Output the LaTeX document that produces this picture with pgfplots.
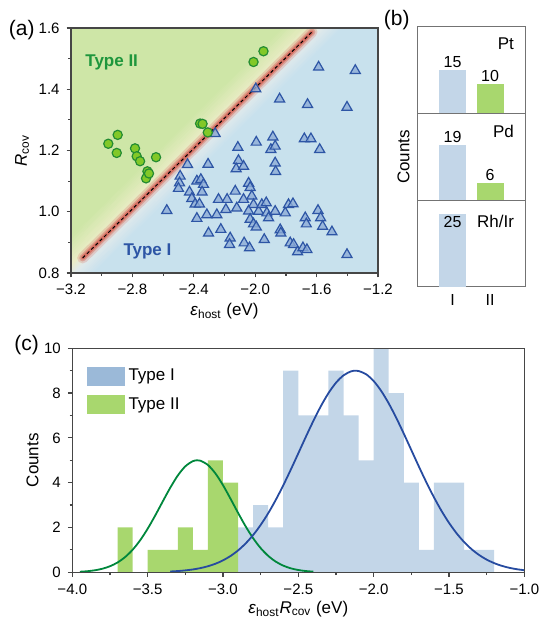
\documentclass[border=0pt]{standalone}
\usepackage{fontspec}
\setmainfont{Liberation Sans}
\usepackage{pgfplots}
\pgfplotsset{compat=1.18}

\definecolor{axgray}{RGB}{70,70,70}
\definecolor{tfill}{RGB}{140,172,215}
\definecolor{tedge}{RGB}{45,85,165}
\definecolor{cfill}{RGB}{130,200,40}
\definecolor{cedge}{RGB}{35,140,50}
\definecolor{glowred}{RGB}{210,80,70}
\definecolor{typeone}{RGB}{45,85,165}
\definecolor{typetwo}{RGB}{30,150,60}
\definecolor{barblue}{RGB}{195,214,232}
\definecolor{bargreen}{RGB}{168,215,110}
\definecolor{legblue}{RGB}{155,185,216}
\definecolor{fitblue}{RGB}{38,75,160}
\definecolor{fitgreen}{RGB}{0,135,60}

\pgfplotsset{
  panel/.style={
    scale only axis, anchor=south west, clip mode=individual,
    axis line style={axgray, line width=0.6pt},
    tick style={axgray, line width=0.6pt},
    tick align=outside, tick pos=left,
    major tick length=2.2pt, minor tick length=1.4pt,
    tick label style={font=\fontsize{7.5}{8}\selectfont},
    label style={font=\fontsize{8.5}{9}\selectfont},
  },
  elem/.style={
    panel, width=54pt, height=43.35pt,
    xmin=0.053, xmax=2.933, ymin=0, ymax=29.7,
    xtick=\empty, ytick=\empty,
    axis line style={black!55, line width=0.5pt},
    ybar, bar width=13.5pt,
    /pgf/number format/assume math mode=true,
    nodes near coords,
    every node near coord/.append style={font=\fontsize{8}{9}\selectfont, black, inner sep=1pt},
  },
}

\begin{document}
\begin{tikzpicture}
\useasboundingbox (0,0) rectangle (269pt,309.5pt);

% ---------------- (a) ----------------
\begin{axis}[panel, at={(35.5pt,173pt)}, width=153.5pt, height=122.5pt,
  xmin=-3.2, xmax=-1.2, ymin=0.8, ymax=1.6,
  xtick={-3.2,-2.8,-2.4,-2.0,-1.6,-1.2},
  xticklabels={−3.2,−2.8,−2.4,−2.0,−1.6,−1.2},
  minor xtick={-3.0,-2.6,-2.2,-1.8,-1.4},
  ytick={0.8,1.0,1.2,1.4,1.6},
  yticklabels={0.8,1.0,1.2,1.4,1.6},
  minor ytick={0.9,1.1,1.3,1.5},
  axis on top,
  xlabel={\textit{ε}\textsubscript{host} (eV)},
  xlabel style={yshift=3pt},
  ylabel={\textit{R}\textsubscript{cov}},
  ylabel style={yshift=-2pt},
]
\addplot[patch, shader=interp, mesh/color input=explicit] table[meta=c] {
x y c
-3.4 -0.4873 rgb=0.784,0.882,0.929
-1.0 0.6983 rgb=0.784,0.882,0.929
-1.0 1.8133 rgb=0.784,0.882,0.929
-3.4 -0.4873 rgb=0.784,0.882,0.929
-1.0 1.8133 rgb=0.784,0.882,0.929
-3.4 0.6277 rgb=0.784,0.882,0.929
-3.4 0.6277 rgb=0.784,0.882,0.929
-1.0 1.8133 rgb=0.784,0.882,0.929
-1.0 1.8783 rgb=0.878,0.914,0.922
-3.4 0.6277 rgb=0.784,0.882,0.929
-1.0 1.8783 rgb=0.878,0.914,0.922
-3.4 0.6927 rgb=0.878,0.914,0.922
-3.4 0.6927 rgb=0.878,0.914,0.922
-1.0 1.8783 rgb=0.878,0.914,0.922
-1.0 1.9163 rgb=0.918,0.925,0.776
-3.4 0.6927 rgb=0.878,0.914,0.922
-1.0 1.9163 rgb=0.918,0.925,0.776
-3.4 0.7307 rgb=0.918,0.925,0.776
-3.4 0.7307 rgb=0.918,0.925,0.776
-1.0 1.9163 rgb=0.918,0.925,0.776
-1.0 2.0083 rgb=0.808,0.902,0.655
-3.4 0.7307 rgb=0.918,0.925,0.776
-1.0 2.0083 rgb=0.808,0.902,0.655
-3.4 0.8227 rgb=0.808,0.902,0.655
-3.4 0.8227 rgb=0.808,0.902,0.655
-1.0 2.0083 rgb=0.808,0.902,0.655
-1.0 3.0983 rgb=0.808,0.902,0.655
-3.4 0.8227 rgb=0.808,0.902,0.655
-1.0 3.0983 rgb=0.808,0.902,0.655
-3.4 1.9127 rgb=0.808,0.902,0.655
};
% red glow along the boundary
\addplot[glowred, line width=5.5pt, opacity=0.2, line cap=round] coordinates {(-3.124,0.849) (-1.630,1.587)};
\addplot[glowred, line width=3.4pt, opacity=0.35, line cap=round] coordinates {(-3.124,0.849) (-1.630,1.587)};
\addplot[glowred, line width=1.9pt, opacity=0.6, line cap=round] coordinates {(-3.124,0.849) (-1.630,1.587)};
\addplot[black, line width=0.5pt, dash pattern=on 1.7pt off 1.3pt] coordinates {(-3.124,0.849) (-1.630,1.587)};

% Type I
\addplot[only marks, mark=triangle*, mark size=2.9pt,
  mark options={fill=tfill, draw=tedge, line width=0.6pt, fill opacity=0.8}] table {
-1.587 1.472
-1.348 1.461
-1.996 1.401
-1.841 1.368
-1.659 1.350
-1.402 1.341
-2.261 1.255
-1.993 1.227
-1.885 1.244
-1.680 1.238
-1.637 1.238
-1.580 1.203
-1.898 1.203
-1.870 1.214
-2.113 1.210
-2.441 1.154
-2.307 1.155
-2.109 1.167
-2.124 1.140
-2.076 1.148
-1.870 1.159
-1.867 1.131
-2.489 1.116
-2.493 1.094
-2.500 1.076
-2.380 1.100
-2.354 1.105
-2.337 1.089
-2.346 1.064
-2.428 1.064
-2.413 1.043
-2.391 1.025
-2.363 1.025
-2.576 1.004
-2.380 0.978
-2.315 0.990
-2.250 0.990
-2.304 0.930
-2.224 0.942
-2.191 1.007
-2.239 1.040
-2.183 1.040
-2.130 1.067
-2.076 1.040
-2.120 1.012
-2.043 1.093
-2.033 1.079
-2.022 1.051
-2.011 1.023
-2.043 1.002
-2.033 0.975
-2.011 0.960
-1.993 0.950
-1.978 1.001
-1.957 1.023
-1.928 1.029
-1.924 0.996
-1.913 0.980
-1.870 1.001
-1.804 0.996
-1.783 1.023
-1.754 1.026
-1.837 0.941
-1.833 0.930
-1.772 0.898
-1.750 0.893
-1.724 0.869
-1.689 0.882
-1.663 0.876
-1.674 0.980
-1.667 0.960
-1.591 1.004
-1.574 0.980
-1.561 0.952
-1.500 0.934
-1.402 0.860
-2.163 0.914
-2.167 0.893
-2.072 0.898
-2.037 0.882
-1.941 0.909
};
% Type II
\addplot[only marks, mark=*, mark size=2.3pt,
  mark options={fill=cfill, draw=cedge, line width=0.6pt}] table {
-2.957 1.222
-2.896 1.251
-2.902 1.192
-2.783 1.207
-2.772 1.181
-2.750 1.165
-2.646 1.178
-2.702 1.132
-2.711 1.109
-2.692 1.125
-2.359 1.288
-2.343 1.287
-2.309 1.259
-2.011 1.489
-1.946 1.524
};
\node[font=\bfseries\fontsize{8.5}{9}\selectfont, text=typetwo] at (axis cs:-2.935,1.488) {Type II};
\node[font=\bfseries\fontsize{8.5}{9}\selectfont, text=typeone] at (axis cs:-2.702,0.870) {Type I};
\node[font=\fontsize{10.5}{11}\selectfont, anchor=east, inner sep=0pt] at (rel axis cs:0,1) [xshift=-18pt, yshift=-1pt] {(a)};
\end{axis}

% ---------------- (b) ----------------
\begin{axis}[elem, at={(208.5pt,252.65pt)}]
\addplot[fill=barblue, draw=none, bar shift=0pt] coordinates {(1,15)};
\addplot[fill=bargreen, draw=none, bar shift=0pt] coordinates {(2,10)};
\node[font=\fontsize{8.5}{9}\selectfont, anchor=north east] at (rel axis cs:1,1) [xshift=-2pt, yshift=-2pt] {Pt};
\node[font=\fontsize{10.5}{11}\selectfont, anchor=east, inner sep=0pt] at (rel axis cs:0,1) [xshift=-3.5pt, yshift=3.5pt] {(b)};
\end{axis}
\begin{axis}[elem, at={(208.5pt,209.3pt)}, ylabel={Counts}, ylabel style={yshift=-2pt}]
\addplot[fill=barblue, draw=none, bar shift=0pt] coordinates {(1,19)};
\addplot[fill=bargreen, draw=none, bar shift=0pt] coordinates {(2,6)};
\node[font=\fontsize{8.5}{9}\selectfont, anchor=north east] at (rel axis cs:1,1) [xshift=-2pt, yshift=-2pt] {Pd};
\end{axis}
\begin{axis}[elem, at={(208.5pt,166pt)},
  xtick={1,2}, xticklabels={I,II}, major tick length=0pt,
  tick label style={font=\fontsize{8}{9}\selectfont},
  every node near coord/.append style={anchor=north}]
\addplot[fill=barblue, draw=none, bar shift=0pt] coordinates {(1,25)};
\node[font=\fontsize{8.5}{9}\selectfont, anchor=north east] at (rel axis cs:1,1) [xshift=-2pt, yshift=-4pt] {Rh/Ir};
\end{axis}

% ---------------- (c) ----------------
\begin{axis}[panel, at={(36.15pt,23.35pt)}, width=226pt, height=112pt,
  xmin=-4, xmax=-1, ymin=0, ymax=10,
  xtick={-4,-3.5,-3,-2.5,-2,-1.5,-1},
  xticklabels={−4.0,−3.5,−3.0,−2.5,−2.0,−1.5,−1.0},
  minor xtick={-3.75,-3.25,-2.75,-2.25,-1.75,-1.25},
  ytick={0,2,4,6,8,10}, yticklabels={0,2,4,6,8,10},
  minor ytick={1,3,5,7,9},
  axis on top,
  xlabel={\textit{ε}\textsubscript{host}\textit{R}\textsubscript{cov} (eV)},
  xlabel style={yshift=3.5pt},
  ylabel={Counts},
  ylabel style={yshift=-4pt},
  legend style={draw=none, fill=none, at={(0,1)}, anchor=north west,
    xshift=4pt, yshift=-6pt, row sep=3pt,
    font=\fontsize{8.5}{9}\selectfont},
  legend cell align=left,
]
\addplot[ybar interval, fill=barblue, draw=none, forget plot] coordinates {
(-2.9,2) (-2.8,3) (-2.7,2) (-2.6,9) (-2.5,7) (-2.4,7) (-2.3,9) (-2.2,7) (-2.1,5)
(-2.0,10) (-1.9,8) (-1.8,4) (-1.7,1) (-1.6,4) (-1.5,4) (-1.4,1) (-1.3,1) (-1.2,0)};
\addplot[ybar interval, fill=bargreen, draw=none, forget plot] coordinates {
(-3.7,2) (-3.6,0) (-3.5,1) (-3.4,1) (-3.3,2) (-3.2,1) (-3.1,5) (-3.0,4) (-2.9,0)};
\addplot[fitgreen, line width=0.9pt, smooth, forget plot] coordinates {
(-3.95,0.025) (-3.90,0.049) (-3.85,0.090) (-3.80,0.160) (-3.75,0.270) (-3.70,0.437)
(-3.65,0.677) (-3.60,1.004) (-3.55,1.427) (-3.50,1.943) (-3.45,2.532) (-3.40,3.159)
(-3.35,3.774) (-3.30,4.318) (-3.25,4.730) (-3.20,4.961) (-3.17,5.000) (-3.15,4.983)
(-3.10,4.792) (-3.05,4.412) (-3.00,3.891) (-2.95,3.285) (-2.90,2.656) (-2.85,2.055)
(-2.80,1.524) (-2.75,1.081) (-2.70,0.735) (-2.65,0.478) (-2.60,0.298) (-2.55,0.178)
(-2.50,0.102) (-2.45,0.056) (-2.40,0.029)};
\addplot[fitblue, line width=0.9pt, smooth, forget plot] coordinates {
(-3.35,0.036) (-3.30,0.056) (-3.25,0.085) (-3.20,0.127) (-3.15,0.187) (-3.10,0.270)
(-3.05,0.382) (-3.00,0.532) (-2.95,0.727) (-2.90,0.976) (-2.85,1.285) (-2.80,1.662)
(-2.75,2.112) (-2.70,2.634) (-2.65,3.227) (-2.60,3.880) (-2.55,4.581) (-2.50,5.311)
(-2.45,6.047) (-2.40,6.759) (-2.35,7.419) (-2.30,7.996) (-2.25,8.461) (-2.20,8.792)
(-2.15,8.970) (-2.12,9.000) (-2.10,8.987) (-2.05,8.841) (-2.00,8.539) (-1.95,8.098)
(-1.90,7.542) (-1.85,6.896) (-1.80,6.192) (-1.75,5.459) (-1.70,4.725) (-1.65,4.017)
(-1.60,3.353) (-1.55,2.747) (-1.50,2.211) (-1.45,1.747) (-1.40,1.355) (-1.35,1.032)
(-1.30,0.772) (-1.25,0.567) (-1.20,0.409) (-1.15,0.290) (-1.10,0.201) (-1.05,0.138)
(-1.00,0.092)};
\addlegendimage{legend image code/.code={\fill[legblue] (0pt,-4.5pt) rectangle (18.5pt,4.5pt);}}
\addlegendentry{Type I}
\addlegendimage{legend image code/.code={\fill[bargreen] (0pt,-4.5pt) rectangle (18.5pt,4.5pt);}}
\addlegendentry{Type II}
\node[font=\fontsize{10.5}{11}\selectfont, anchor=east, inner sep=0pt] at (rel axis cs:0,1) [xshift=-16.5pt, yshift=1.5pt] {(c)};
\end{axis}
\end{tikzpicture}
\end{document}
